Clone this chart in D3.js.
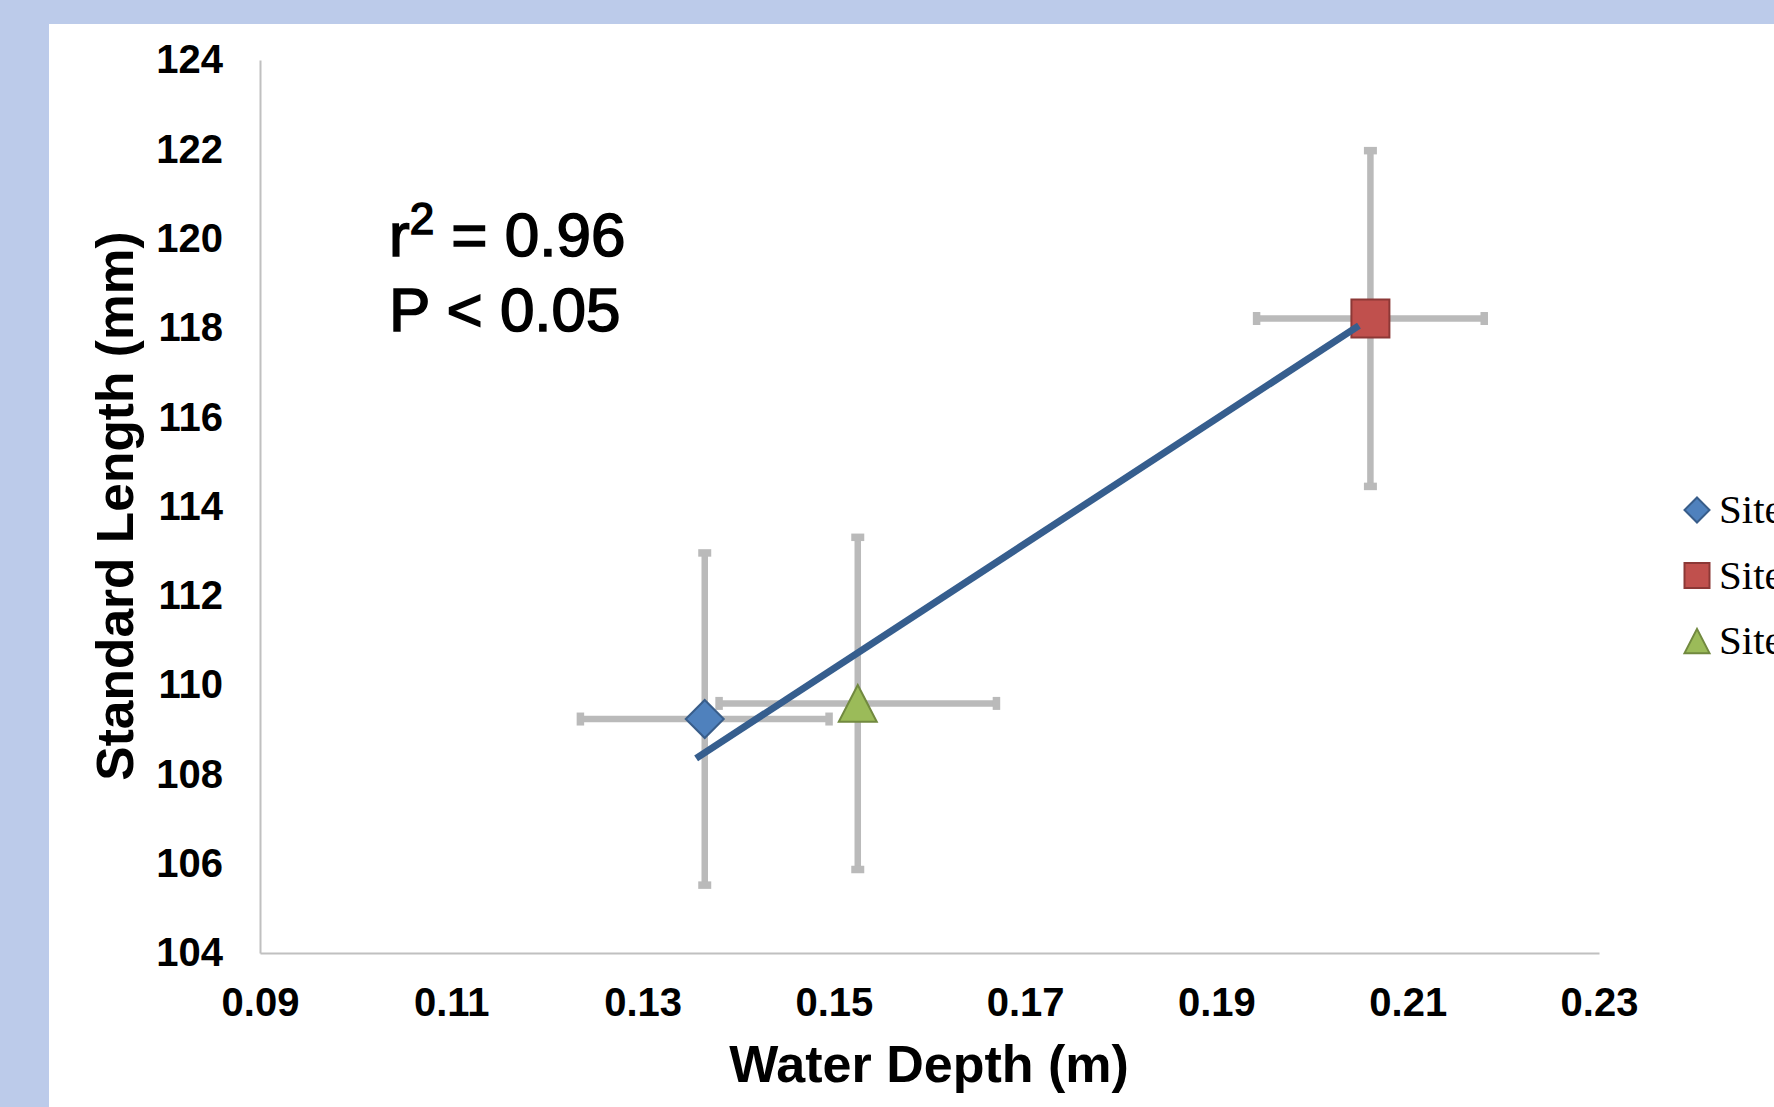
<!DOCTYPE html>
<html>
<head>
<meta charset="utf-8">
<script src="https://cdn.jsdelivr.net/npm/d3@7"></script>
<style>
  html, body { margin: 0; padding: 0; background: #bccbea; overflow: hidden; }
  svg { display: block; }
</style>
</head>
<body>
<svg id="chart" width="1774" height="1107"></svg>
<script>
// ---- data ----
const sites      = ["Site 1", "Site 2", "Site 3"];
const depth      = [0.1365, 0.2061, 0.1525];   // Water Depth (m)
const depthErr   = [0.0130, 0.0119, 0.0145];
const lengthMM   = [109.24, 118.21, 109.59];   // Standard Length (mm)
const lengthErr  = [3.72, 3.76, 3.72];
const trendDepth = [0.1356, 0.2049];
const trendLen   = [108.36, 118.05];
const xTicks     = [0.09, 0.11, 0.13, 0.15, 0.17, 0.19, 0.21, 0.23];
const yTicks     = [104, 106, 108, 110, 112, 114, 116, 118, 120, 122, 124];
const statLines  = ["r", "= 0.96", "P < 0.05"];

// ---- styles ----
const fills   = ["#4f81bd", "#c0504d", "#9bbb59"];
const strokes = ["#385d8a", "#8c3836", "#71893f"];
const shapes  = ["diamond", "square", "triangle"];

const svg = d3.select("#chart");
svg.append("rect").attr("x", 0).attr("y", 0).attr("width", 1774).attr("height", 1107).attr("fill", "#bccbea");
svg.append("rect").attr("x", 49).attr("y", 24).attr("width", 1774 - 49).attr("height", 1107 - 24).attr("fill", "#ffffff");

const x = d3.scaleLinear().domain([0.09, 0.23]).range([260, 1599]);
const y = d3.scaleLinear().domain([104, 124]).range([953, 60]);

function shapePath(type, s) {
  const p = d3.path();
  const h = s / 2;
  if (type === "diamond") {
    p.moveTo(0, -h); p.lineTo(h, 0); p.lineTo(0, h); p.lineTo(-h, 0); p.closePath();
  } else if (type === "square") {
    p.rect(-h, -h, s, s);
  } else {
    const hh = s * 0.97 / 2;
    p.moveTo(0, -hh); p.lineTo(h, hh); p.lineTo(-h, hh); p.closePath();
  }
  return p.toString();
}

// ---- axes ----
const xAxis = d3.axisBottom(x).tickValues(xTicks).tickSize(0).tickSizeOuter(0).tickPadding(35)
  .tickFormat(d3.format(".2f"));
const yAxis = d3.axisLeft(y).tickValues(yTicks).tickSize(0).tickSizeOuter(0).tickPadding(37)
  .tickFormat(d3.format("d"));

const gx = svg.append("g").attr("transform", "translate(0,953)").call(xAxis);
const gy = svg.append("g").attr("transform", "translate(260,0)").call(yAxis);
[gx, gy].forEach(g => {
  g.select(".domain").attr("stroke", "#c0c0c0").attr("stroke-width", 2);
  g.selectAll("text")
    .attr("fill", "#000")
    .style("font-family", "'Liberation Sans', Arial, sans-serif")
    .style("font-weight", "bold")
    .style("font-size", "40px");
});

// ---- error bars ----
const errColor = "#bababa";
const eb = svg.append("g");
sites.forEach((s, i) => {
  const cx = x(depth[i]), cy = y(lengthMM[i]);
  const x0 = x(depth[i] - depthErr[i]), x1 = x(depth[i] + depthErr[i]);
  const y0 = y(lengthMM[i] - lengthErr[i]), y1 = y(lengthMM[i] + lengthErr[i]);
  eb.append("line").attr("x1", x0).attr("x2", x1).attr("y1", cy).attr("y2", cy)
    .attr("stroke", errColor).attr("stroke-width", 6.5);
  eb.append("line").attr("x1", cx).attr("x2", cx).attr("y1", y0).attr("y2", y1)
    .attr("stroke", errColor).attr("stroke-width", 6.5);
  [x0, x1].forEach(xx => eb.append("line").attr("x1", xx).attr("x2", xx)
    .attr("y1", cy - 6.5).attr("y2", cy + 6.5).attr("stroke", errColor).attr("stroke-width", 7.5));
  [y0, y1].forEach(yy => eb.append("line").attr("x1", cx - 6.5).attr("x2", cx + 6.5)
    .attr("y1", yy).attr("y2", yy).attr("stroke", errColor).attr("stroke-width", 7.5));
});

// ---- markers ----
svg.append("g").selectAll("path").data(sites).join("path")
  .attr("transform", (d, i) => `translate(${x(depth[i])},${y(lengthMM[i])})`)
  .attr("d", (d, i) => shapePath(shapes[i], 38))
  .attr("fill", (d, i) => fills[i])
  .attr("stroke", (d, i) => strokes[i])
  .attr("stroke-width", 2);

// ---- trend line ----
svg.append("path")
  .datum(trendDepth.map((d, i) => [d, trendLen[i]]))
  .attr("d", d3.line().x(d => x(d[0])).y(d => y(d[1])))
  .attr("stroke", "#365e8e").attr("stroke-width", 7).attr("fill", "none");

// ---- stats text ----
const st = svg.append("g").style("font-family", "'Liberation Sans', Arial, sans-serif")
  .style("font-size", "62px").attr("fill", "#000")
  .attr("stroke", "#000").attr("stroke-width", 1.6);
const t1 = st.append("text").attr("x", 389).attr("y", 256);
t1.append("tspan").text(statLines[0]);
t1.append("tspan").attr("dy", "-22").style("font-size", "44px").text("2");
t1.append("tspan").attr("dy", "22").text(" " + statLines[1]);
st.append("text").attr("x", 389).attr("y", 331).text(statLines[2]);

// ---- axis titles ----
svg.append("text").attr("x", 929).attr("y", 1082).attr("text-anchor", "middle")
  .style("font-family", "'Liberation Sans', Arial, sans-serif").style("font-weight", "bold")
  .style("font-size", "52px").text("Water Depth (m)");
svg.append("text").attr("transform", "translate(133,506) rotate(-90)").attr("text-anchor", "middle")
  .style("font-family", "'Liberation Sans', Arial, sans-serif").style("font-weight", "bold")
  .style("font-size", "51.5px").text("Standard Length (mm)");

// ---- legend ----
const lg = svg.append("g").attr("transform", "translate(1697,510)");
sites.forEach((s, i) => {
  const row = lg.append("g").attr("transform", `translate(0,${i * 65.5})`);
  row.append("path").attr("d", shapePath(shapes[i], 25))
    .attr("fill", fills[i]).attr("stroke", strokes[i]).attr("stroke-width", 2);
  row.append("text").attr("x", 22).attr("y", 13)
    .style("font-family", "'Liberation Serif', 'DejaVu Serif', serif").style("font-size", "41px")
    .attr("fill", "#000").text(s);
});
</script>
</body>
</html>
